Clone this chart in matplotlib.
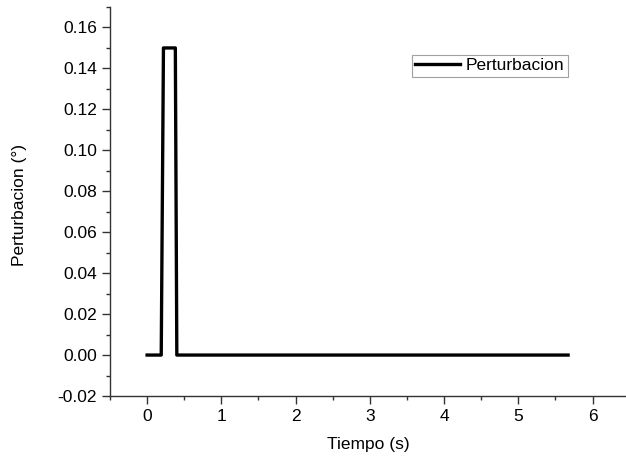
import matplotlib

matplotlib.use("AGG")
from matplotlib import pyplot
from matplotlib.ticker import MultipleLocator, FormatStrFormatter

# pulse disturbance data
tiempo = [0.0, 0.19, 0.22, 0.38, 0.40, 5.67]
perturbacion = [0.0, 0.0, 0.15, 0.15, 0.0, 0.0]

pyplot.rcParams["font.family"] = ["Liberation Sans", "DejaVu Sans"]
fs = 12.5

fig = pyplot.figure(figsize=(6.26, 4.59), dpi=100)
ax = fig.add_axes([110 / 626, 63 / 459, 516 / 626, 389 / 459])

ax.plot(tiempo, perturbacion, color="black", linewidth=2.4, label="Perturbacion")

ax.set_xlim(-0.5, 6.45)
ax.set_ylim(-0.02, 0.17)
ax.xaxis.set_major_locator(MultipleLocator(1))
ax.xaxis.set_minor_locator(MultipleLocator(0.5))
ax.yaxis.set_major_locator(MultipleLocator(0.02))
ax.yaxis.set_minor_locator(MultipleLocator(0.01))
ax.yaxis.set_major_formatter(FormatStrFormatter("%.2f"))

ax.spines["top"].set_visible(False)
ax.spines["right"].set_visible(False)
for s in ("left", "bottom"):
    ax.spines[s].set_linewidth(1.0)
    ax.spines[s].set_color("#333333")

ax.tick_params(which="major", direction="out", length=6, width=1, labelsize=fs, color="#333333")
ax.tick_params(which="minor", direction="out", length=3, width=1, color="#333333")

ax.set_xlabel("Tiempo (s)", fontsize=fs)
ax.xaxis.set_label_coords(0.5, -0.105)
ax.set_ylabel("Perturbacion (°)", fontsize=fs)
ax.yaxis.set_label_coords(-0.16, 0.49)

leg = ax.legend(loc="upper left", bbox_to_anchor=(0.585, 0.877), fontsize=fs,
                frameon=True, fancybox=False, borderpad=0.2, handlelength=2.6,
                handletextpad=0.3, borderaxespad=0)
leg.get_frame().set_edgecolor("#888888")
leg.get_frame().set_linewidth(0.8)

fig.savefig("out.png", dpi=100)
pyplot.close()
